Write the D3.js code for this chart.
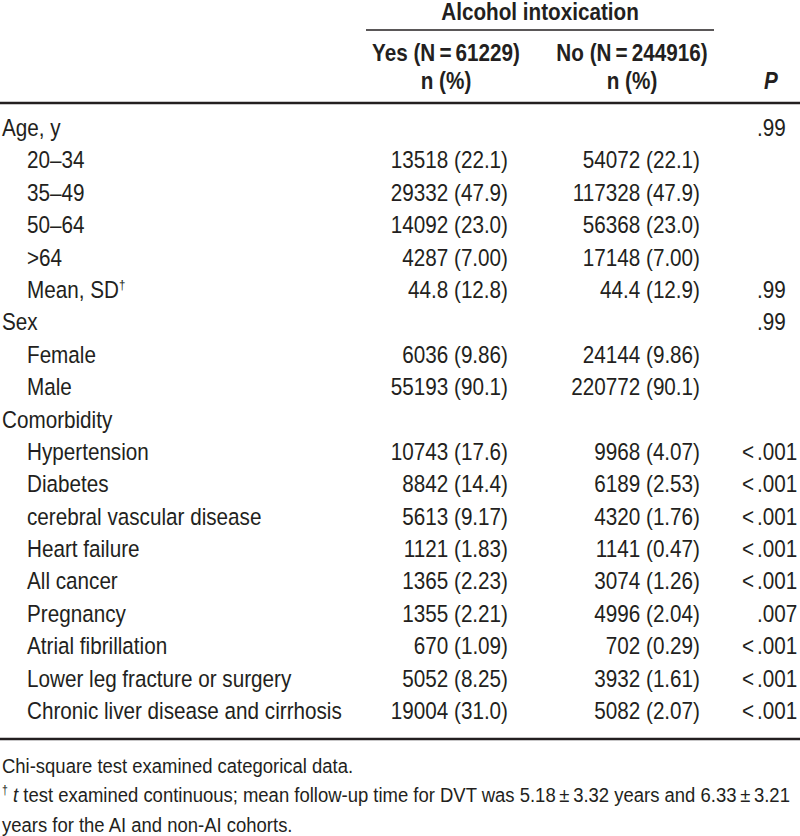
<!DOCTYPE html>
<html>
<head>
<meta charset="utf-8">
<script src="https://cdn.jsdelivr.net/npm/d3@7"></script>
<style>
  body { margin: 0; background: #fff; }
  svg text { font-family: "Liberation Sans", Arial, sans-serif; fill: #231f20; }
</style>
</head>
<body>
<div id="chart"></div>
<script>
// table content
var labels = ["Age, y", "20\u201334", "35\u201349", "50\u201364", ">64", "Mean, SD",
              "Sex", "Female", "Male",
              "Comorbidity", "Hypertension", "Diabetes", "cerebral vascular disease", "Heart failure",
              "All cancer", "Pregnancy", "Atrial fibrillation", "Lower leg fracture or surgery",
              "Chronic liver disease and cirrhosis"];
var indent = [0, 1, 1, 1, 1, 1, 0, 1, 1, 0, 1, 1, 1, 1, 1, 1, 1, 1, 1];
var dagger = [0, 0, 0, 0, 0, 1, 0, 0, 0, 0, 0, 0, 0, 0, 0, 0, 0, 0, 0];

var yes_n   = [null, 13518, 29332, 14092, 4287, 44.8, null, 6036, 55193, null, 10743, 8842, 5613, 1121, 1365, 1355, 670, 5052, 19004];
var yes_pct = [null, 22.1, 47.9, 23.0, 7.00, 12.8, null, 9.86, 90.1, null, 17.6, 14.4, 9.17, 1.83, 2.23, 2.21, 1.09, 8.25, 31.0];
var no_n    = [null, 54072, 117328, 56368, 17148, 44.4, null, 24144, 220772, null, 9968, 6189, 4320, 1141, 3074, 4996, 702, 3932, 5082];
var no_pct  = [null, 22.1, 47.9, 23.0, 7.00, 12.9, null, 9.86, 90.1, null, 4.07, 2.53, 1.76, 0.47, 1.26, 2.04, 0.29, 1.61, 2.07];
var p_vals  = [".99", "", "", "", "", ".99", ".99", "", "", "", "<.001", "<.001", "<.001", "<.001", "<.001", ".007", "<.001", "<.001", "<.001"];

var group_title = "Alcohol intoxication";
var col_heads = ["Yes (N\u2009=\u200961229)", "No (N\u2009=\u2009244916)"];
var sub_head = "n (%)";

var width = 800, height = 836;
var fs = 23.5, fs_note = 21;
var sx = 0.88;   // condensed look: squeeze the glyphs sideways

var svg = d3.select("#chart").append("svg")
    .attr("width", width)
    .attr("height", height);

var rows = d3.range(labels.length);
var y = d3.scalePoint().domain(rows).range([136, 719]);

// x positions of the columns
var x_label = 2, x_indent = 27;
var x_yes = 508, x_no = 700;      // right edge of numbers
var c_yes = 446, c_no = 632;      // header centres
var x_dot = 757;                  // decimal point of P column

function at(x, yy) { return "translate(" + x + "," + yy + ") scale(" + sx + ",1)"; }

function fmt_n(v) {
    return Number.isInteger(v) ? String(v) : v.toFixed(1);
}
function fmt_p(v) {
    return v < 10 ? v.toFixed(2) : v.toFixed(1);
}
function cell(n, p) {
    if (n == null) return "";
    return fmt_n(n) + " (" + fmt_p(p) + ")";
}

// header
svg.append("text")
    .attr("transform", at(540, 20))
    .attr("text-anchor", "middle")
    .attr("font-size", fs).attr("font-weight", "bold")
    .text(group_title);

svg.append("line")
    .attr("x1", 366).attr("x2", 714)
    .attr("y1", 30).attr("y2", 30)
    .attr("stroke", "#231f20").attr("stroke-width", 1.5);

svg.selectAll(".col_head")
    .data(col_heads)
    .enter()
    .append("text")
    .attr("class", "col_head")
    .attr("transform", function(d, i) { return at(i == 0 ? c_yes : c_no, 61); })
    .attr("text-anchor", "middle")
    .attr("font-size", fs).attr("font-weight", "bold")
    .text(function(d) { return d; });

svg.selectAll(".sub_head")
    .data([c_yes, c_no])
    .enter()
    .append("text")
    .attr("class", "sub_head")
    .attr("transform", function(d) { return at(d, 89); })
    .attr("text-anchor", "middle")
    .attr("font-size", fs).attr("font-weight", "bold")
    .text(sub_head);

svg.append("text")
    .attr("transform", at(771, 89))
    .attr("text-anchor", "middle")
    .attr("font-size", fs).attr("font-weight", "bold").attr("font-style", "italic")
    .text("P");

svg.append("line")
    .attr("x1", 0).attr("x2", width)
    .attr("y1", 103).attr("y2", 103)
    .attr("stroke", "#231f20").attr("stroke-width", 2.5);

// body rows
var row_g = svg.selectAll(".row")
    .data(rows)
    .enter()
    .append("g")
    .attr("class", "row")
    .attr("transform", function(d) { return "translate(0," + y(d) + ")"; });

var lab = row_g.append("text")
    .attr("transform", function(d) { return at(indent[d] ? x_indent : x_label, 0); })
    .attr("font-size", fs)
    .text(function(d) { return labels[d]; });

lab.filter(function(d) { return dagger[d]; })
    .append("tspan")
    .attr("dy", -9)
    .attr("font-size", 13)
    .text("\u2020");

row_g.append("text")
    .attr("transform", at(x_yes, 0))
    .attr("text-anchor", "end")
    .attr("font-size", fs)
    .text(function(d) { return cell(yes_n[d], yes_pct[d]); });

row_g.append("text")
    .attr("transform", at(x_no, 0))
    .attr("text-anchor", "end")
    .attr("font-size", fs)
    .text(function(d) { return cell(no_n[d], no_pct[d]); });

// P column aligned on the decimal point
row_g.append("text")
    .attr("transform", at(x_dot - 3, 0))
    .attr("text-anchor", "end")
    .attr("font-size", fs)
    .text(function(d) { return p_vals[d].split(".")[0]; });

row_g.append("text")
    .attr("transform", at(x_dot, 0))
    .attr("font-size", fs)
    .text(function(d) { var s = p_vals[d]; return s ? s.slice(s.indexOf(".")) : ""; });

svg.append("line")
    .attr("x1", 0).attr("x2", width)
    .attr("y1", 739).attr("y2", 739)
    .attr("stroke", "#231f20").attr("stroke-width", 2.5);

// footnotes
svg.append("text")
    .attr("transform", at(x_label, 773))
    .attr("font-size", fs_note)
    .text("Chi-square test examined categorical data.");

var note2 = svg.append("text")
    .attr("transform", at(x_label, 802))
    .attr("font-size", fs_note);
note2.append("tspan").attr("font-size", 12).attr("dy", -8).text("\u2020");
note2.append("tspan").attr("dy", 8).text(" ");
note2.append("tspan").attr("font-style", "italic").text("t");
note2.append("tspan").text(" test examined continuous; mean follow-up time for DVT was 5.18\u2009\u00b1\u20093.32 years and 6.33\u2009\u00b1\u20093.21");

svg.append("text")
    .attr("transform", at(x_label, 832))
    .attr("font-size", fs_note)
    .text("years for the AI and non-AI cohorts.");
</script>
</body>
</html>
